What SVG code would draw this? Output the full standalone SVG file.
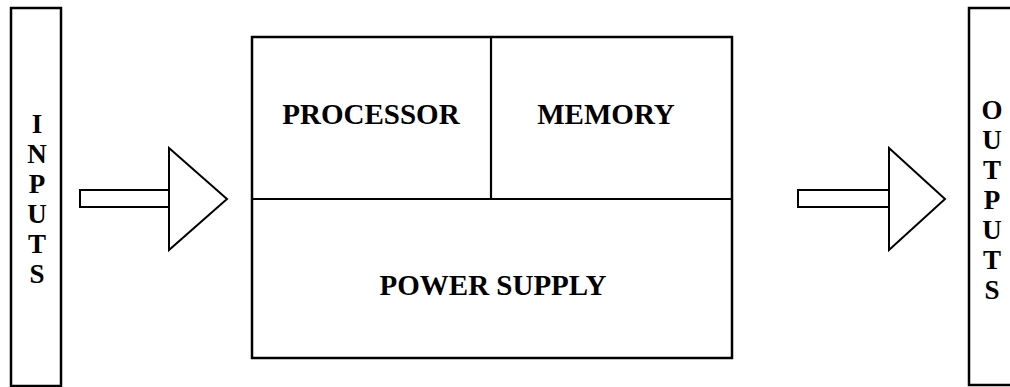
<svg xmlns="http://www.w3.org/2000/svg" width="1010" height="387" viewBox="0 0 1010 387">
<style>
.box{fill:#fff;stroke:#000;stroke-width:2.5}
.ln{fill:none;stroke:#000;stroke-width:2.2}
.arr{fill:#fff;stroke:#000;stroke-width:2}
.t{font-family:"Liberation Serif","Times New Roman",serif;font-weight:bold;font-size:29px;fill:#000;text-anchor:middle}
.v{font-family:"Liberation Serif","Times New Roman",serif;font-weight:bold;font-size:27px;fill:#000;text-anchor:middle}
</style>
<rect width="1010" height="387" fill="#fff"/>
<g id="inputs">
<rect class="box" x="11" y="8" width="50" height="378"/>
<text class="v" x="37" y="133">I</text>
<text class="v" x="37" y="163">N</text>
<text class="v" x="37" y="193">P</text>
<text class="v" x="37" y="223">U</text>
<text class="v" x="37" y="253">T</text>
<text class="v" x="37" y="283">S</text>
</g>
<g id="plc">
<rect class="box" x="252" y="37" width="480" height="321"/>
<line class="ln" x1="491" y1="37" x2="491" y2="199"/>
<line class="ln" x1="252" y1="199" x2="732" y2="199"/>
<text class="t" x="371" y="124">PROCESSOR</text>
<text class="t" x="606" y="124">MEMORY</text>
<text class="t" x="493" y="295">POWER SUPPLY</text>
</g>
<g id="outputs">
<rect class="box" x="969" y="8" width="50" height="377"/>
<text class="v" x="992" y="119">O</text>
<text class="v" x="992" y="149">U</text>
<text class="v" x="992" y="179">T</text>
<text class="v" x="992" y="209">P</text>
<text class="v" x="992" y="239">U</text>
<text class="v" x="992" y="269">T</text>
<text class="v" x="992" y="299">S</text>
</g>
<g id="connectors">
<g id="arrow-in">
<rect class="arr" x="80" y="190" width="89" height="17"/>
<polygon class="arr" points="169,148 227,199 169,250"/>
</g>
<g id="arrow-out">
<rect class="arr" x="798" y="190" width="91" height="17"/>
<polygon class="arr" points="889,148 945,199 889,250"/>
</g>
</g>
</svg>
